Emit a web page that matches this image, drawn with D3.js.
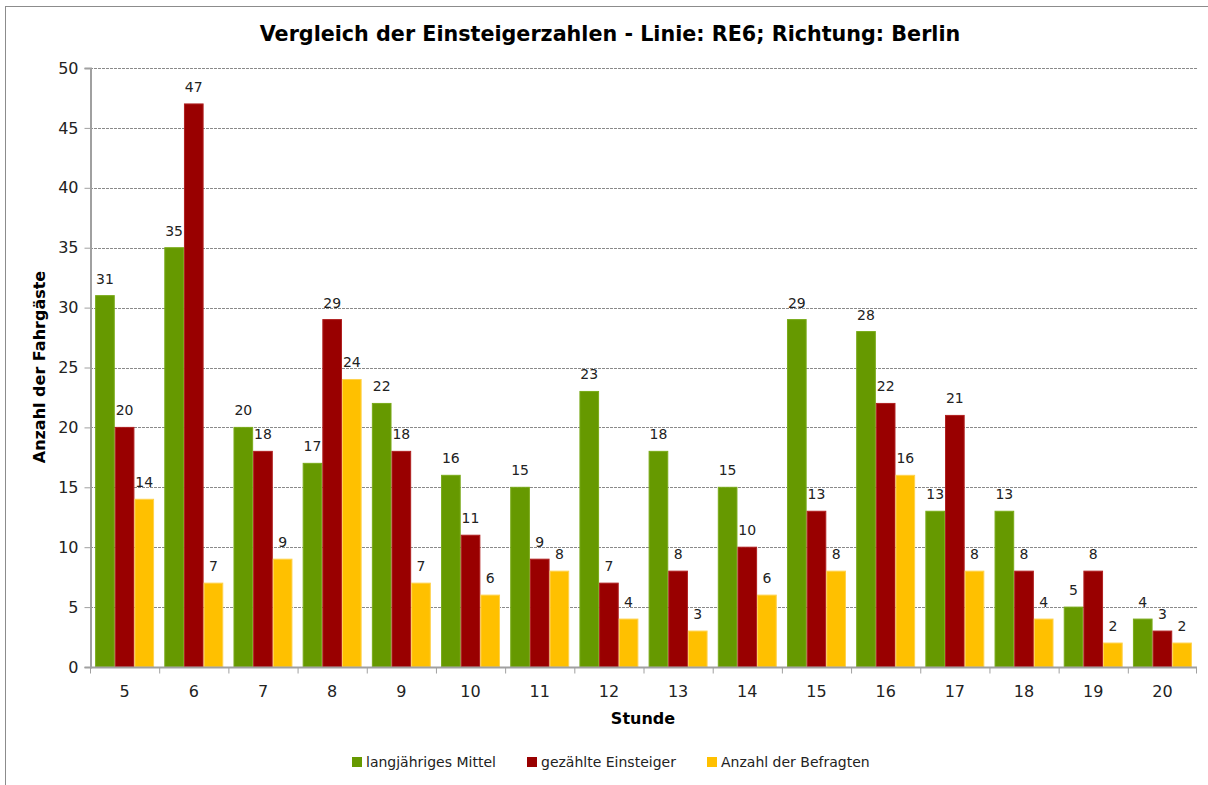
<!DOCTYPE html>
<html>
<head>
<meta charset="utf-8">
<script src="https://cdn.jsdelivr.net/npm/d3@7"></script>
<style>
  body { margin: 0; background: #fff; }
  text { font-family: "DejaVu Sans", Verdana, sans-serif; fill: #000; }
</style>
</head>
<body>
<div id="container"></div>
<script>
var WIDTH = 1208,
	HEIGHT = 785,
	LEFT = 90,
	RIGHT = 1197,
	TOP = 68,
	BOTTOM = 667;

var hours = ['5', '6', '7', '8', '9', '10', '11', '12', '13', '14', '15', '16', '17', '18', '19', '20'];
var mittel = [31, 35, 20, 17, 22, 16, 15, 23, 18, 15, 29, 28, 13, 13, 5, 4];
var gezaehlt = [20, 47, 18, 29, 18, 11, 9, 7, 8, 10, 13, 22, 21, 8, 8, 3];
var befragt = [14, 7, 9, 24, 7, 6, 8, 4, 3, 6, 8, 16, 8, 4, 2, 2];
var seriesNames = ['langjähriges Mittel', 'gezählte Einsteiger', 'Anzahl der Befragten'];
var colors = ['#669900', '#990000', '#ffc000'];
var strokes = ['#7aab1a', '#b02020', '#ffd24d'];
var yTicks = [0, 5, 10, 15, 20, 25, 30, 35, 40, 45, 50];

var seriesValues = [mittel, gezaehlt, befragt];

var xScale = d3.scaleBand().domain(hours).range([LEFT, RIGHT]).paddingInner(0).paddingOuter(0);
var xInner = d3.scaleBand().domain(d3.range(3)).range([0, xScale.bandwidth()]).paddingOuter(0.26).paddingInner(0);
var yScale = d3.scaleLinear().domain([0, 50]).range([BOTTOM, TOP]);

var translate = function (x, y) {
	return "translate(" + x + "," + y + ")";
};

function drawChart() {
	var svg = d3.select('#container')
		.append('svg')
		.attr('width', WIDTH)
		.attr('height', HEIGHT);

	// outer frame
	svg.append('rect')
		.attr('x', 5.5).attr('y', 6.5)
		.attr('width', WIDTH + 20).attr('height', HEIGHT + 20)
		.attr('fill', 'none').attr('stroke', '#8c8c8c');

	svg.append('text')
		.attr('x', 610).attr('y', 41)
		.attr('text-anchor', 'middle')
		.style('font-size', '20.7px').style('font-weight', 'bold')
		.text('Vergleich der Einsteigerzahlen - Linie: RE6; Richtung: Berlin');

	// grid
	svg.append('g').selectAll('line').data(yTicks.slice(1)).enter()
		.append('line')
		.attr('x1', LEFT).attr('x2', RIGHT)
		.attr('y1', function (d) { return Math.round(yScale(d)) + 0.5; })
		.attr('y2', function (d) { return Math.round(yScale(d)) + 0.5; })
		.attr('stroke', '#8a8a8a')
		.attr('stroke-dasharray', '3,1');

	// bars
	var groups = svg.append('g').selectAll('g').data(hours).enter()
		.append('g')
		.attr('transform', function (d) { return translate(xScale(d), 0); });

	groups.selectAll('rect').data(function (d, i) {
		return seriesValues.map(function (s, k) { return { k: k, v: s[i] }; });
	}).enter()
		.append('rect')
		.attr('x', function (d) { return xInner(d.k) + 0.5; })
		.attr('y', function (d) { return yScale(d.v); })
		.attr('width', xInner.bandwidth() - 1)
		.attr('height', function (d) { return yScale(0) - yScale(d.v); })
		.attr('fill', function (d) { return colors[d.k]; })
		.attr('stroke', function (d) { return strokes[d.k]; })
		.attr('stroke-width', 1);

	groups.selectAll('text').data(function (d, i) {
		return seriesValues.map(function (s, k) { return { k: k, v: s[i] }; });
	}).enter()
		.append('text')
		.attr('x', function (d) { return xInner(d.k) + xInner.bandwidth() / 2; })
		.attr('y', function (d) { return yScale(d.v) - 12; })
		.attr('text-anchor', 'middle')
		.style('font-size', '14px')
		.style('fill', '#222')
		.text(function (d) { return d.v; });

	// axes
	var yAxis = d3.axisLeft(yScale).tickValues(yTicks).tickSize(6).tickPadding(6);
	var gy = svg.append('g')
		.attr('transform', translate(LEFT + 0.5, 0))
		.call(yAxis);
	gy.selectAll('text').style('font-size', '16px').style('fill', '#222');

	var xAxis = d3.axisBottom(xScale).tickSize(0).tickPadding(18);
	var gx = svg.append('g')
		.attr('transform', translate(0, BOTTOM + 0.5))
		.call(xAxis);
	gx.selectAll('text').style('font-size', '16px').style('fill', '#222');
	gx.select('.domain').remove();
	gx.append('line').attr('x1', LEFT).attr('x2', RIGHT).attr('stroke', '#a0a0a0').attr('stroke-width', 2);
	gx.selectAll('.sep').data(hours.concat(['end'])).enter()
		.append('line')
		.attr('x1', function (d, i) { return i < hours.length ? xScale(d) + 0.5 : RIGHT - 0.5; })
		.attr('x2', function (d, i) { return i < hours.length ? xScale(d) + 0.5 : RIGHT - 0.5; })
		.attr('y1', 0).attr('y2', 6)
		.attr('stroke', '#a0a0a0');
	gy.select('.domain').attr('stroke', '#a0a0a0').attr('stroke-width', 2);
	gy.selectAll('.tick line').attr('stroke', '#a0a0a0');

	svg.append('text')
		.attr('x', 643).attr('y', 724)
		.attr('text-anchor', 'middle')
		.style('font-size', '16px').style('font-weight', 'bold')
		.text('Stunde');

	svg.append('text')
		.attr('transform', translate(45, 367) + ' rotate(-90)')
		.attr('text-anchor', 'middle')
		.style('font-size', '16px').style('font-weight', 'bold')
		.text('Anzahl der Fahrgäste');

	// legend
	var legendX = [352, 527, 707];
	var legend = svg.append('g').selectAll('g').data(seriesNames).enter()
		.append('g')
		.attr('transform', function (d, i) { return translate(legendX[i], 757); });
	legend.append('rect')
		.attr('width', 10).attr('height', 10)
		.attr('fill', function (d, i) { return colors[i]; });
	legend.append('text')
		.attr('x', 14).attr('y', 10)
		.style('font-size', '14px')
		.style('fill', '#222')
		.text(function (d) { return d; });
}

window.onload = drawChart;
</script>
</body>
</html>
